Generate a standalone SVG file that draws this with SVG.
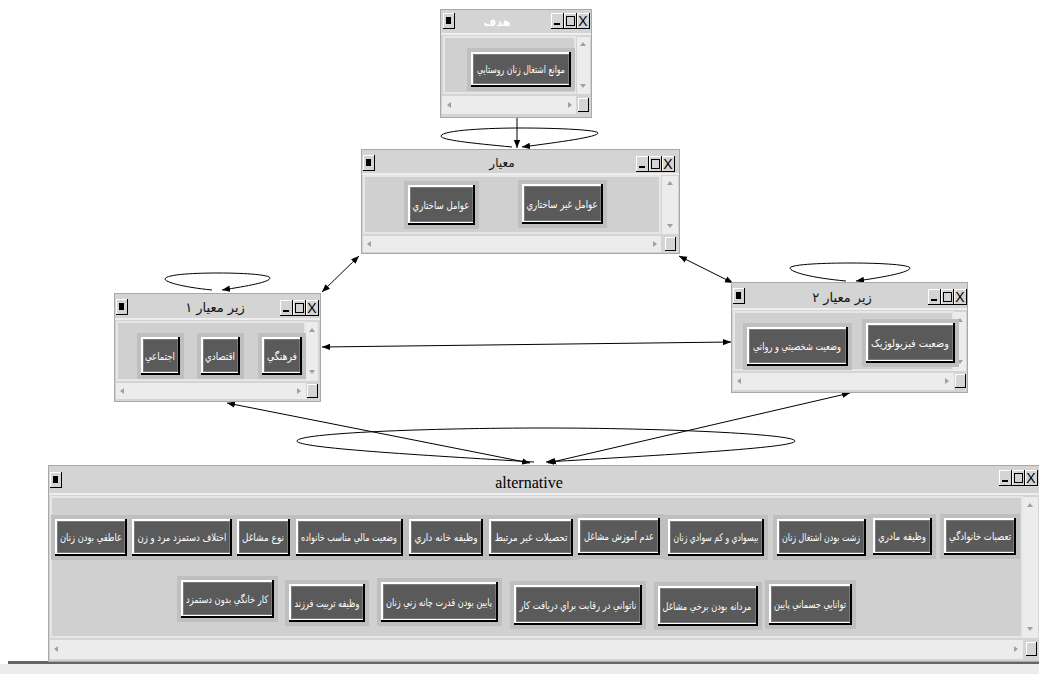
<svg xmlns="http://www.w3.org/2000/svg" xmlns:xlink="http://www.w3.org/1999/xlink" width="1039" height="674" viewBox="0 0 1039 674">
<style>
.win{fill:#d4d4d4;stroke:#a8a8a8;stroke-width:1}
.tl{stroke:#eeeeee;stroke-width:2}
.cont{fill:#d0d0d0;stroke:#e6e6e6;stroke-width:2}
.scr{fill:#ececec}
.bf{fill:#bfbfbf}
.bk{fill:#000}
.bw{fill:#fff}
.bg{fill:#5a5a5a;stroke:#7a7a7a;stroke-width:1}
.bt{font-family:"DejaVu Sans",sans-serif;font-size:10.5px;fill:#fff;text-anchor:middle;transform-box:fill-box;transform-origin:center;transform:scaleX(0.8)}
.tt{font-family:"DejaVu Sans",sans-serif;font-size:12px;fill:#111;text-anchor:middle}
.at{font-family:"Liberation Serif",serif;font-size:16px;fill:#000;text-anchor:middle}
.xt{font-family:"Liberation Sans",sans-serif;font-size:14px;fill:#000;text-anchor:middle}
.sa{fill:#a0a0a0}
.edge{fill:none;stroke:#000;stroke-width:1}
</style>
<defs>
<marker id="ah" viewBox="0 0 10 10" refX="10" refY="5" markerWidth="8" markerHeight="8" orient="auto-start-reverse"><path d="M0,1 L10,5 L0,9 z" fill="#000"/></marker>
<g id="sys">
<rect x="0" y="0" width="12" height="16" fill="#000"/>
<rect x="0" y="0" width="11" height="15" fill="#fff"/>
<rect x="1" y="1" width="10" height="14" fill="#d4d4d4"/>
<rect x="3" y="4" width="5" height="7" fill="#000"/>
</g>
<g id="ctl">
<rect x="0" y="0" width="13" height="16" fill="#000"/>
<rect x="0" y="0" width="12" height="15" fill="#fff"/>
<rect x="1" y="1" width="11" height="14" fill="#d4d4d4"/>
<rect x="3" y="10" width="6" height="2" fill="#000"/>
<rect x="13" y="0" width="13" height="16" fill="#000"/>
<rect x="13" y="0" width="12" height="15" fill="#fff"/>
<rect x="14" y="1" width="11" height="14" fill="#d4d4d4"/>
<rect x="15.5" y="3.5" width="8" height="9" fill="none" stroke="#000" stroke-width="1"/>
<rect x="26" y="0" width="13" height="16" fill="#000"/>
<rect x="26" y="0" width="12" height="15" fill="#fff"/>
<rect x="27" y="1" width="11" height="14" fill="#d4d4d4"/>
<text class="xt" x="32" y="13">X</text>
</g>
<g id="corner">
<rect x="0" y="0" width="11" height="14" fill="#000"/>
<rect x="0" y="0" width="10" height="13" fill="#fff"/>
<rect x="1" y="1" width="9" height="12" fill="#d4d4d4"/>
</g>
<path id="up" d="M-3,2 L3,2 L0,-2 z"/>
<path id="dn" d="M-3,-2 L3,-2 L0,2 z"/>
<path id="lf" d="M2,-3 L2,3 L-2,0 z"/>
<path id="rt" d="M-2,-3 L-2,3 L2,0 z"/>
</defs>

<rect x="0" y="0" width="1039" height="674" fill="#fff"/>

<!-- bottom bar -->
<rect x="8" y="661" width="1031" height="3" fill="#666"/>
<rect x="0" y="664" width="1039" height="10" fill="#ececec"/>

<g id="connectors">
<line class="edge" x1="517" y1="117" x2="517" y2="148" marker-end="url(#ah)"/>
<path class="edge" d="M512,147 C470,143 441,140 441,136 C442,130 490,128 520,128 C560,128 598,130 598,133 C598,137 560,142 522,147" marker-end="url(#ah)"/>
<line class="edge" x1="359" y1="256" x2="322" y2="292" marker-start="url(#ah)" marker-end="url(#ah)"/>
<line class="edge" x1="679" y1="256" x2="733" y2="283" marker-start="url(#ah)" marker-end="url(#ah)"/>
<line class="edge" x1="322" y1="347" x2="731" y2="342" marker-start="url(#ah)" marker-end="url(#ah)"/>
<path class="edge" d="M212,290 C182,287 165,282 165,279 C166,274 198,273 218,273 C248,273 270,275 270,278 C270,282 248,286 222,290" marker-end="url(#ah)"/>
<path class="edge" d="M846,281 C812,278 790,272 790,268 C791,264 828,263 850,263 C884,263 910,265 910,268 C910,272 886,277 856,281" marker-end="url(#ah)"/>
<line class="edge" x1="227" y1="403" x2="530" y2="463" marker-start="url(#ah)" marker-end="url(#ah)"/>
<line class="edge" x1="850" y1="393" x2="548" y2="463" marker-start="url(#ah)" marker-end="url(#ah)"/>
<path class="edge" d="M534,462 C420,455 297,448 297,441 C297,433 430,428 545,428 C660,428 795,434 795,441 C795,448 660,455 546,462" marker-end="url(#ah)"/>
</g>

<!-- Goal window -->
<g id="goal">
<rect class="win" x="440.5" y="9.5" width="151" height="108"/>
<line class="tl" x1="441" y1="34" x2="591" y2="34"/>
<use xlink:href="#sys" x="443" y="13"/>
<use xlink:href="#ctl" x="551" y="13"/>
<text x="497" y="26" font-family="DejaVu Sans, sans-serif" font-size="11" fill="#fff" text-anchor="middle" font-weight="bold">هدف</text>
<rect class="cont" x="444" y="37" width="131" height="56"/>
<rect class="scr" x="577" y="37" width="13" height="57"/>
<use xlink:href="#up" x="583" y="44" class="sa"/>
<use xlink:href="#dn" x="583" y="86" class="sa"/>
<rect class="scr" x="442" y="96" width="134" height="18"/>
<use xlink:href="#lf" x="449" y="105" class="sa"/>
<use xlink:href="#rt" x="570" y="105" class="sa"/>
<use xlink:href="#corner" x="578" y="98"/>
<rect class="bf" x="467" y="48" width="108" height="43"/>
<rect class="bk" x="471" y="52" width="100" height="35"/>
<rect class="bw" x="471" y="52" width="98" height="33"/>
<rect class="bg" x="473.5" y="54.5" width="95" height="29"/>
<text class="bt" x="521" y="73" textLength="110" lengthAdjust="spacingAndGlyphs">موانع اشتغال زنان روستايي</text>
</g>

<!-- Criteria window -->
<g id="criteria">
<rect class="win" x="361.5" y="149.5" width="318" height="104"/>
<line class="tl" x1="362" y1="174" x2="679" y2="174"/>
<use xlink:href="#sys" x="363" y="155"/>
<use xlink:href="#ctl" x="636" y="156"/>
<text class="tt" x="502" y="167">معيار</text>
<rect class="cont" x="364" y="176" width="296" height="57"/>
<rect class="scr" x="662" y="176" width="16" height="58"/>
<use xlink:href="#up" x="670" y="183" class="sa"/>
<use xlink:href="#dn" x="670" y="226" class="sa"/>
<rect class="scr" x="363" y="236" width="298" height="16"/>
<use xlink:href="#lf" x="369" y="244" class="sa"/>
<use xlink:href="#rt" x="655" y="244" class="sa"/>
<use xlink:href="#corner" x="665" y="237"/>
<rect class="bf" x="404" y="181" width="75" height="48"/>
<rect class="bk" x="408" y="185" width="67" height="40"/>
<rect class="bw" x="408" y="185" width="65" height="38"/>
<rect class="bg" x="410.5" y="187.5" width="62" height="34"/>
<text class="bt" x="441" y="209" textLength="71" lengthAdjust="spacingAndGlyphs">عوامل ساختاري</text>
<rect class="bf" x="518" y="180" width="89" height="48"/>
<rect class="bk" x="522" y="184" width="81" height="40"/>
<rect class="bw" x="522" y="184" width="79" height="38"/>
<rect class="bg" x="524.5" y="186.5" width="76" height="34"/>
<text class="bt" x="562" y="208" textLength="89" lengthAdjust="spacingAndGlyphs">عوامل غير ساختاري</text>
</g>

<!-- Sub-criteria 1 -->
<g id="sub1">
<rect class="win" x="114.5" y="293.5" width="206" height="108"/>
<line class="tl" x1="115" y1="319" x2="320" y2="319"/>
<use xlink:href="#sys" x="116" y="299"/>
<use xlink:href="#ctl" x="280" y="300"/>
<text x="215" y="312" font-family="DejaVu Sans, sans-serif" font-size="13" fill="#111" text-anchor="middle">زير معيار ١</text>
<rect class="cont" x="117" y="322" width="188" height="58"/>
<rect class="scr" x="306" y="322" width="12" height="59"/>
<use xlink:href="#up" x="312" y="330" class="sa"/>
<use xlink:href="#dn" x="312" y="372" class="sa"/>
<rect class="scr" x="116" y="383" width="190" height="16"/>
<use xlink:href="#lf" x="122" y="391" class="sa"/>
<use xlink:href="#rt" x="299" y="391" class="sa"/>
<use xlink:href="#corner" x="307" y="384"/>
<rect class="bf" x="137" y="333" width="47" height="46"/>
<rect class="bk" x="141" y="337" width="39" height="38"/>
<rect class="bw" x="141" y="337" width="37" height="36"/>
<rect class="bg" x="143.5" y="339.5" width="34" height="32"/>
<text class="bt" x="160" y="360" textLength="37.5" lengthAdjust="spacingAndGlyphs">اجتماعي</text>
<rect class="bf" x="197" y="333" width="47" height="46"/>
<rect class="bk" x="201" y="337" width="39" height="38"/>
<rect class="bw" x="201" y="337" width="37" height="36"/>
<rect class="bg" x="203.5" y="339.5" width="34" height="32"/>
<text class="bt" x="220" y="360" textLength="37.5" lengthAdjust="spacingAndGlyphs">اقتصادي</text>
<rect class="bf" x="258" y="333" width="48" height="46"/>
<rect class="bk" x="262" y="337" width="40" height="38"/>
<rect class="bw" x="262" y="337" width="38" height="36"/>
<rect class="bg" x="264.5" y="339.5" width="35" height="32"/>
<text class="bt" x="282" y="360" textLength="37.5" lengthAdjust="spacingAndGlyphs">فرهنگي</text>
</g>

<!-- Sub-criteria 2 -->
<g id="sub2">
<rect class="win" x="731.5" y="282.5" width="236" height="110"/>
<line class="tl" x1="732" y1="309" x2="967" y2="309"/>
<use xlink:href="#sys" x="733" y="288"/>
<use xlink:href="#ctl" x="928" y="289"/>
<text x="842" y="302" font-family="DejaVu Sans, sans-serif" font-size="13" fill="#111" text-anchor="middle">زير معيار ٢</text>
<rect class="cont" x="734" y="312" width="219" height="58"/>
<rect class="scr" x="954" y="312" width="12" height="59"/>
<use xlink:href="#up" x="960" y="320" class="sa"/>
<use xlink:href="#dn" x="960" y="362" class="sa"/>
<rect class="scr" x="733" y="373" width="221" height="17"/>
<use xlink:href="#lf" x="739" y="381" class="sa"/>
<use xlink:href="#rt" x="947" y="381" class="sa"/>
<use xlink:href="#corner" x="955" y="374"/>
<rect class="bf" x="862" y="319" width="97" height="48"/>
<rect class="bk" x="866" y="323" width="89" height="40"/>
<rect class="bw" x="866" y="323" width="87" height="38"/>
<rect class="bg" x="868.5" y="325.5" width="84" height="34"/>
<text class="bt" x="910" y="347" textLength="97.5" lengthAdjust="spacingAndGlyphs">وضعيت فيزيولوژيک</text>
<rect class="bf" x="743" y="323" width="109" height="47"/>
<rect class="bk" x="747" y="327" width="101" height="39"/>
<rect class="bw" x="747" y="327" width="99" height="37"/>
<rect class="bg" x="749.5" y="329.5" width="96" height="33"/>
<text class="bt" x="797" y="350" textLength="110" lengthAdjust="spacingAndGlyphs">وضعيت شخصيتي و رواني</text>
</g>

<!-- Alternative window -->
<g id="alternative">
<rect class="win" x="48.5" y="465.5" width="992" height="196"/>
<line class="tl" x1="49" y1="494" x2="1039" y2="494"/>
<use xlink:href="#sys" x="50" y="472"/>
<use xlink:href="#ctl" x="999" y="470"/>
<text class="at" x="529" y="488">alternative</text>
<rect class="cont" x="51" y="497" width="971" height="140"/>
<rect class="scr" x="1023" y="497" width="15" height="141"/>
<use xlink:href="#up" x="1030" y="505" class="sa"/>
<use xlink:href="#dn" x="1030" y="629" class="sa"/>
<rect class="scr" x="50" y="640" width="973" height="19"/>
<use xlink:href="#lf" x="56" y="649" class="sa"/>
<use xlink:href="#rt" x="1016" y="649" class="sa"/>
<use xlink:href="#corner" x="1026" y="642"/>

<g id="a1"><rect class="bf" x="940" y="514" width="80" height="45"/><rect class="bk" x="944" y="518" width="72" height="37"/><rect class="bw" x="944" y="518" width="70" height="35"/><rect class="bg" x="946.5" y="520.5" width="67" height="31"/><text class="bt" x="980" y="540" textLength="77.5" lengthAdjust="spacingAndGlyphs">تعصبات خانوادگي</text></g>
<g id="a2"><rect class="bf" x="869" y="514" width="67" height="45"/><rect class="bk" x="873" y="518" width="59" height="37"/><rect class="bw" x="873" y="518" width="57" height="35"/><rect class="bg" x="875.5" y="520.5" width="54" height="31"/><text class="bt" x="902" y="540" textLength="60" lengthAdjust="spacingAndGlyphs">وظيفه مادري</text></g>
<g id="a3"><rect class="bf" x="773" y="515" width="97" height="45"/><rect class="bk" x="777" y="519" width="89" height="37"/><rect class="bw" x="777" y="519" width="87" height="35"/><rect class="bg" x="779.5" y="521.5" width="84" height="31"/><text class="bt" x="821" y="541" textLength="97.5" lengthAdjust="spacingAndGlyphs">زشت بودن اشتغال زنان</text></g>
<g id="a4"><rect class="bf" x="664" y="515" width="104" height="45"/><rect class="bk" x="668" y="519" width="96" height="37"/><rect class="bw" x="668" y="519" width="94" height="35"/><rect class="bg" x="670.5" y="521.5" width="91" height="31"/><text class="bt" x="716" y="541" textLength="106" lengthAdjust="spacingAndGlyphs">بيسوادي و كم سوادي زنان</text></g>
<g id="a5"><rect class="bf" x="574" y="514" width="90" height="45"/><rect class="bk" x="578" y="518" width="82" height="37"/><rect class="bw" x="578" y="518" width="80" height="35"/><rect class="bg" x="580.5" y="520.5" width="77" height="31"/><text class="bt" x="619" y="540" textLength="87.5" lengthAdjust="spacingAndGlyphs">عدم آموزش  مشاغل</text></g>
<g id="a6"><rect class="bf" x="485" y="515" width="92" height="45"/><rect class="bk" x="489" y="519" width="84" height="37"/><rect class="bw" x="489" y="519" width="82" height="35"/><rect class="bg" x="491.5" y="521.5" width="79" height="31"/><text class="bt" x="531" y="541" textLength="91" lengthAdjust="spacingAndGlyphs">تحصيلات غير مرتبط</text></g>
<g id="a7"><rect class="bf" x="405" y="515" width="82" height="45"/><rect class="bk" x="409" y="519" width="74" height="37"/><rect class="bw" x="409" y="519" width="72" height="35"/><rect class="bg" x="411.5" y="521.5" width="69" height="31"/><text class="bt" x="446" y="541" textLength="79" lengthAdjust="spacingAndGlyphs">وظيفه خانه داري</text></g>
<g id="a8"><rect class="bf" x="292" y="515" width="115" height="45"/><rect class="bk" x="296" y="519" width="107" height="37"/><rect class="bw" x="296" y="519" width="105" height="35"/><rect class="bg" x="298.5" y="521.5" width="102" height="31"/><text class="bt" x="349" y="541" textLength="120" lengthAdjust="spacingAndGlyphs">وضعيت مالي مناسب خانواده</text></g>
<g id="a9"><rect class="bf" x="233" y="515" width="61" height="45"/><rect class="bk" x="237" y="519" width="53" height="37"/><rect class="bw" x="237" y="519" width="51" height="35"/><rect class="bg" x="239.5" y="521.5" width="48" height="31"/><text class="bt" x="263" y="541" textLength="52.5" lengthAdjust="spacingAndGlyphs">نوع مشاغل</text></g>
<g id="a10"><rect class="bf" x="128" y="515" width="108" height="45"/><rect class="bk" x="132" y="519" width="100" height="37"/><rect class="bw" x="132" y="519" width="98" height="35"/><rect class="bg" x="134.5" y="521.5" width="95" height="31"/><text class="bt" x="182" y="541" textLength="111" lengthAdjust="spacingAndGlyphs">اختلاف دستمزد مرد و زن</text></g>
<g id="a11"><rect class="bf" x="51" y="515" width="80" height="45"/><rect class="bk" x="55" y="519" width="72" height="37"/><rect class="bw" x="55" y="519" width="70" height="35"/><rect class="bg" x="57.5" y="521.5" width="67" height="31"/><text class="bt" x="91" y="541" textLength="77.5" lengthAdjust="spacingAndGlyphs">عاطفي بودن زنان</text></g>

<g id="b1"><rect class="bf" x="177" y="576" width="101" height="46"/><rect class="bk" x="181" y="580" width="93" height="38"/><rect class="bw" x="181" y="580" width="91" height="36"/><rect class="bg" x="183.5" y="582.5" width="88" height="32"/><text class="bt" x="227" y="603" textLength="102.5" lengthAdjust="spacingAndGlyphs">كار خانگي بدون دستمزد</text></g>
<g id="b2"><rect class="bf" x="285" y="580" width="84" height="46"/><rect class="bk" x="289" y="584" width="76" height="38"/><rect class="bw" x="289" y="584" width="74" height="36"/><rect class="bg" x="291.5" y="586.5" width="71" height="32"/><text class="bt" x="327" y="607" textLength="81" lengthAdjust="spacingAndGlyphs">وظيفه تربيت فرزند</text></g>
<g id="b3"><rect class="bf" x="377" y="578" width="125" height="48"/><rect class="bk" x="381" y="582" width="117" height="40"/><rect class="bw" x="381" y="582" width="115" height="38"/><rect class="bg" x="383.5" y="584.5" width="112" height="34"/><text class="bt" x="439" y="606" textLength="132.5" lengthAdjust="spacingAndGlyphs">پايين بودن قدرت چانه زني زنان</text></g>
<g id="b4"><rect class="bf" x="510" y="581" width="136" height="48"/><rect class="bk" x="514" y="585" width="128" height="40"/><rect class="bw" x="514" y="585" width="126" height="38"/><rect class="bg" x="516.5" y="587.5" width="123" height="34"/><text class="bt" x="578" y="609" textLength="146" lengthAdjust="spacingAndGlyphs">ناتواني در رقابت براي دريافت كار</text></g>
<g id="b5"><rect class="bf" x="654" y="582" width="108" height="48"/><rect class="bk" x="658" y="586" width="100" height="40"/><rect class="bw" x="658" y="586" width="98" height="38"/><rect class="bg" x="660.5" y="588.5" width="95" height="34"/><text class="bt" x="707" y="610" textLength="111" lengthAdjust="spacingAndGlyphs">مردانه بودن برخي مشاغل</text></g>
<g id="b6"><rect class="bf" x="765" y="580" width="91" height="49"/><rect class="bk" x="769" y="584" width="83" height="41"/><rect class="bw" x="769" y="584" width="81" height="39"/><rect class="bg" x="771.5" y="586.5" width="78" height="35"/><text class="bt" x="810" y="608" textLength="90" lengthAdjust="spacingAndGlyphs">توانايي جسماني پايين</text></g>
</g>
</svg>
